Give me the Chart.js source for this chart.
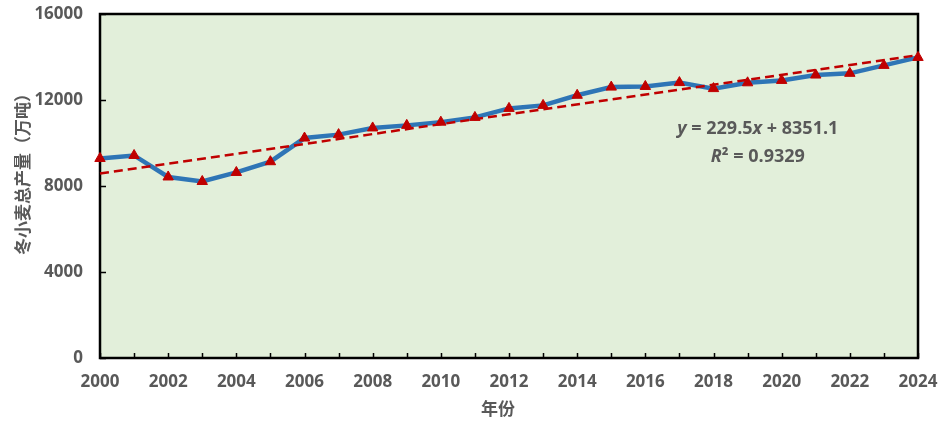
<!DOCTYPE html>
<html>
<head>
<meta charset="utf-8">
<script src="https://cdn.jsdelivr.net/npm/chart.js@4"></script>
<style>
html,body{margin:0;padding:0;background:#fff;}
#wrap{width:951px;height:427px;position:relative;}
</style>
</head>
<body>
<div id="wrap"><canvas id="c" width="951" height="427"></canvas></div>
<script>
// ---- data ----
const years = [2000,2001,2002,2003,2004,2005,2006,2007,2008,2009,2010,2011,2012,2013,2014,2015,2016,2017,2018,2019,2020,2021,2022,2023,2024];
const production = [9280,9420,8420,8210,8630,9130,10230,10390,10700,10820,10970,11190,11610,11750,12220,12600,12630,12810,12530,12800,12910,13160,13240,13610,13980];
const trendSlope = 229.5;
const trendIntercept = 8351.1;
const trendR2 = 0.9329;
const yTicks = [0,4000,8000,12000,16000];
const xTickLabels = [2000,2002,2004,2006,2008,2010,2012,2014,2016,2018,2020,2022,2024];
const xTitle = '年份';
const yTitle = '冬小麦总产量（万吨）';

const points = years.map((yr,i)=>({x:yr,y:production[i]}));
// Excel trendline uses x = 1..n
const trendPoints = [years[0], years[years.length-1]].map(yr=>({x:yr, y:trendSlope*(yr-years[0]+1)+trendIntercept}));

const FONT = "'Open Sans','Noto Sans CJK SC',sans-serif";
const GREY = '#595959';

const decorPlugin = {
  id:'decor',
  beforeDraw(chart){
    const {ctx, chartArea:a} = chart;
    ctx.save();
    ctx.fillStyle = '#E2EFDA';
    ctx.fillRect(a.left, a.top, a.right-a.left, a.bottom-a.top);
    ctx.restore();
  },
  beforeDatasetsDraw(chart){
    const {ctx, chartArea:a, scales} = chart;
    ctx.save();
    ctx.strokeStyle = '#000';
    ctx.lineWidth = 1.5;
    ctx.beginPath();
    years.forEach(yr=>{
      const px = Math.round(scales.x.getPixelForValue(yr))+0.5;
      ctx.moveTo(px, a.bottom); ctx.lineTo(px, a.bottom-5);
    });
    yTicks.forEach(v=>{
      const py = Math.round(scales.y.getPixelForValue(v))+0.5;
      ctx.moveTo(a.left, py); ctx.lineTo(a.left+6, py);
    });
    ctx.stroke();
    ctx.lineWidth = 2.5;
    ctx.strokeRect(a.left, a.top, a.right-a.left, a.bottom-a.top);
    ctx.restore();
  },
  afterDraw(chart){
    const {ctx, chartArea:a, scales} = chart;
    ctx.save();
    ctx.fillStyle = GREY;
    ctx.font = "bold 17px " + FONT;
    ctx.textAlign = 'center';
    ctx.textBaseline = 'middle';
    ctx.translate(24, (a.top+a.bottom)/2 - 16);
    ctx.rotate(-Math.PI/2);
    ctx.fillText(yTitle, 0, 0);
    ctx.restore();
    ctx.save();
    ctx.fillStyle = GREY;
    ctx.font = "bold 17px " + FONT;
    ctx.textAlign = 'center';
    ctx.textBaseline = 'middle';
    ctx.fillText(xTitle, (a.left+a.right)/2 - 11, 410);
    const cx = scales.x.getPixelForValue(2019.3);
    const y1 = scales.y.getPixelForValue(10650);
    const y2 = scales.y.getPixelForValue(9350);
    const bold = "bold 18px " + FONT;
    const ital = "italic bold 18px " + FONT;
    const segs = [[ital,'y'],[bold,' = '+trendSlope.toFixed(1)],[ital,'x'],[bold,' + '+trendIntercept.toFixed(1)]];
    let w = 0;
    segs.forEach(s=>{ctx.font=s[0]; w+=ctx.measureText(s[1]).width;});
    let x = cx - w/2;
    ctx.textAlign='left';
    segs.forEach(s=>{ctx.font=s[0]; ctx.fillText(s[1], x, y1); x+=ctx.measureText(s[1]).width;});
    const segs2 = [[ital,'R'],[bold,'² = '+trendR2.toFixed(4)]];
    w = 0;
    segs2.forEach(s=>{ctx.font=s[0]; w+=ctx.measureText(s[1]).width;});
    x = cx - w/2;
    segs2.forEach(s=>{ctx.font=s[0]; ctx.fillText(s[1], x, y2); x+=ctx.measureText(s[1]).width;});
    ctx.restore();
  }
};

new Chart(document.getElementById('c'), {
  type:'line',
  data:{
    datasets:[
      {label:'产量', data:points, borderColor:'#2E75B6', borderWidth:4.5, pointRadius:0, tension:0, clip:false, order:3},
      {label:'趋势线', data:trendPoints, borderColor:'#C00000', borderWidth:2.5, borderDash:[9,5], pointRadius:0, clip:false, order:2},
      {label:'点', data:points, showLine:false, pointStyle:'triangle', pointRadius:6, pointBackgroundColor:'#C00000', pointBorderColor:'#C00000', pointBorderWidth:1, clip:false, order:1}
    ]
  },
  options:{
    responsive:false,
    animation:false,
    devicePixelRatio:1,
    layout:{padding:{top:14,right:33,left:0,bottom:0}},
    plugins:{legend:{display:false}, tooltip:{enabled:false}},
    scales:{
      x:{
        type:'linear', min:2000, max:2024,
        afterBuildTicks(s){ s.ticks = xTickLabels.map(v=>({value:v})); },
        afterFit(s){ s.height = 69; s.paddingLeft = 0; s.paddingRight = 0; },
        grid:{display:false, drawTicks:false}, border:{display:false},
        ticks:{color:GREY, font:{family:FONT, size:17, weight:'bold'}, padding:14, maxRotation:0, autoSkip:false, callback:v=>String(v)}
      },
      y:{
        type:'linear', min:0, max:16000,
        afterBuildTicks(s){ s.ticks = yTicks.map(v=>({value:v})); },
        afterFit(s){ s.width = 100; s.paddingTop = 0; s.paddingBottom = 0; },
        grid:{display:false, drawTicks:false}, border:{display:false},
        ticks:{color:GREY, font:{family:FONT, size:17, weight:'bold'}, padding:17, callback:v=>String(v)}
      }
    }
  },
  plugins:[decorPlugin]
});
</script>
</body>
</html>
